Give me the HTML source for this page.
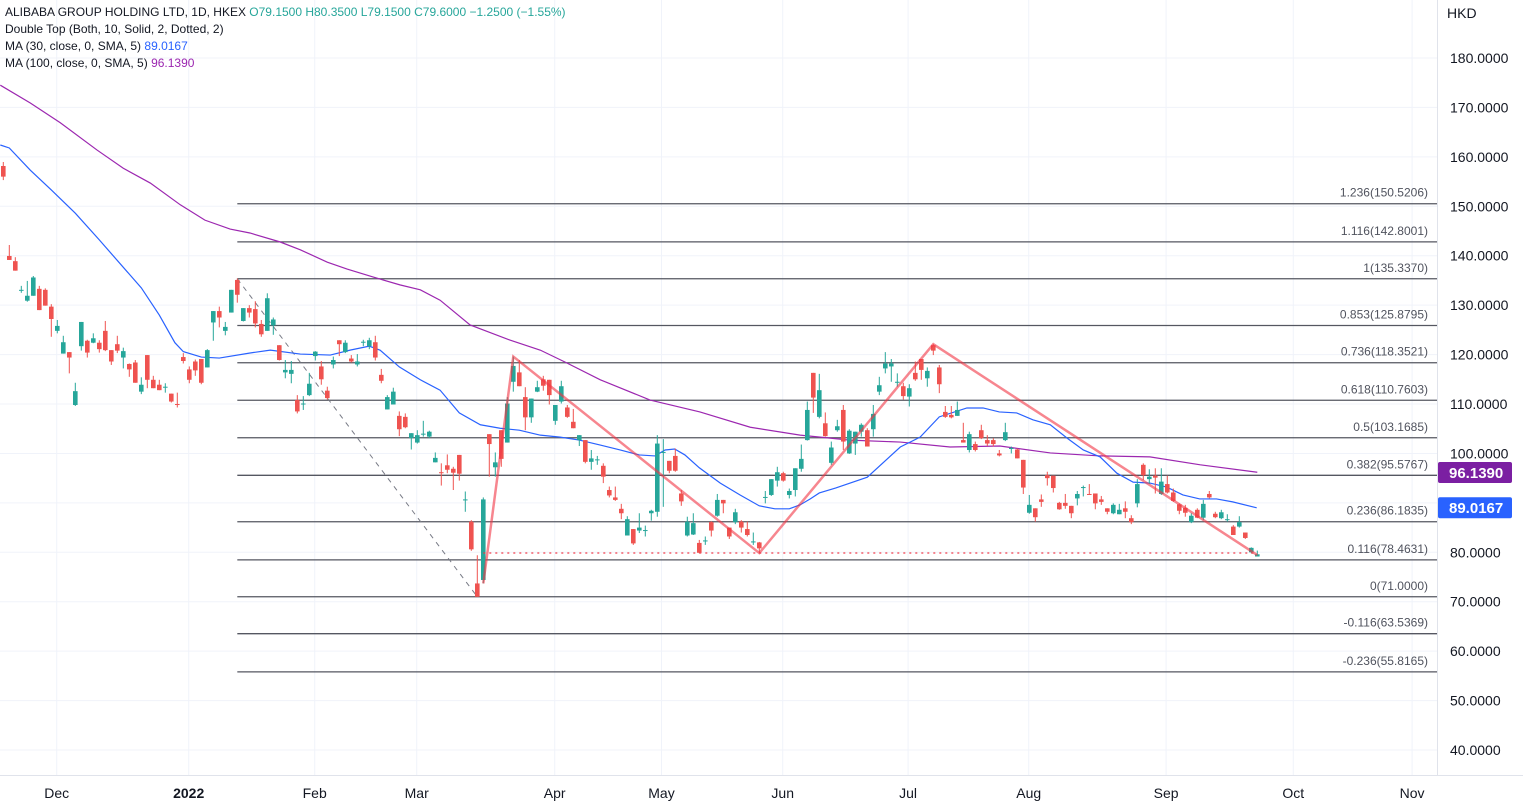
<!DOCTYPE html>
<html><head><meta charset="utf-8"><style>
html,body{margin:0;padding:0;background:#fff;}
body{width:1523px;height:809px;overflow:hidden;font-family:"Liberation Sans",sans-serif;}
svg{display:block;}
.hdr{position:absolute;left:5px;font-size:12px;color:#131722;white-space:nowrap;}
</style></head><body>
<div style="position:relative;width:1523px;height:809px;">
<svg id="chart" width="1523" height="809"></svg>
<div class="hdr" style="top:5px">ALIBABA GROUP HOLDING LTD, 1D, HKEX <span style="color:#26a69a">O79.1500 H80.3500 L79.1500 C79.6000 −1.2500 (−1.55%)</span></div>
<div class="hdr" style="top:22px">Double Top (Both, 10, Solid, 2, Dotted, 2)</div>
<div class="hdr" style="top:39px">MA (30, close, 0, SMA, 5) <span style="color:#2962ff">89.0167</span></div>
<div class="hdr" style="top:56px">MA (100, close, 0, SMA, 5) <span style="color:#9c27b0">96.1390</span></div>
</div>
<script>
// OHLC per bar index
const opens=[158.15,139.95,138.9,133.0,130.9,131.9,133.3,133.1,129.7,124.8,120.2,120.5,109.8,121.7,122.8,122.4,122.4,124.8,120.9,122.1,119.4,118.1,118.4,112.5,119.9,114.9,113.9,113.3,112.1,110.0,
119.5,117.0,118.6,119.1,117.4,126.5,128.8,124.8,128.5,135.1,126.8,129.4,129.2,126.2,124.8,125.9,121.9,116.4,116.1,110.8,109.9,111.8,119.7,117.6,112.7,118.0,122.9,120.5,119.2,118.0,
122.4,121.7,122.5,115.9,108.9,109.9,107.6,107.4,103.1,102.2,103.8,103.4,98.2,96.2,97.6,96.9,99.7,90.5,86.2,73.7,
74.4,103.9,97.2,104.7,102.2,114.5,116.4,111.4,107.3,112.5,115.0,114.9,106.6,110.5,109.3,106.4,102.7,102.7,98.3,98.6,
97.5,92.6,91.1,88.8,83.4,84.7,84.4,84.3,87.9,88.2,100.1,98.5,99.5,91.9,83.4,83.6,81.9,82.2,86.1,87.4,
90.6,85.0,86.1,86.2,84.7,82.0,82.0,91.0,91.6,94.5,96.0,91.6,92.6,96.9,102.7,116.3,107.4,106.1,98.1,104.7,
108.8,100.0,102.0,104.4,104.7,104.9,112.5,117.2,117.6,114.3,113.6,111.5,116.3,119.1,115.2,121.9,117.4,108.4,107.8,107.6,
102.7,100.7,101.9,104.7,102.7,102.7,100.0,102.7,100.9,100.8,98.7,88.0,88.9,90.7,95.6,95.5,90.0,90.0,89.4,90.9,
93.0,91.8,91.9,90.7,88.9,87.9,87.7,88.9,86.9,89.9,97.7,94.8,95.5,91.8,93.8,92.1,89.7,89.0,86.1,88.6,
87.0,91.8,87.8,86.9,86.6,85.2,85.2,84.0,80.0,79.15];
const highs=[158.96,142.17,139.7,133.9,134.9,135.9,133.9,133.4,130.2,127.0,123.8,120.5,114.3,126.6,123.0,124.3,122.9,126.8,120.9,123.8,121.4,118.2,118.9,115.4,119.9,115.7,114.9,114.2,112.1,112.3,
120.3,117.6,119.0,119.1,121.1,128.8,129.7,126.6,133.1,135.4,129.4,130.0,130.8,127.0,132.4,127.5,121.9,118.9,118.7,111.8,111.6,116.3,120.7,118.7,113.5,119.6,122.9,122.9,119.9,120.1,
123.0,123.4,123.8,117.1,111.8,113.3,108.5,108.1,104.1,104.7,106.6,104.6,100.2,98.0,99.8,97.3,99.7,92.3,86.5,79.4,
91.1,103.9,100.2,104.7,111.4,119.6,118.9,113.4,111.1,114.7,115.7,114.9,109.8,114.7,109.8,109.0,103.7,102.7,100.7,99.5,
98.0,93.3,93.3,89.8,87.3,84.7,87.9,85.4,88.6,103.7,102.9,98.5,101.0,92.6,87.2,87.9,82.5,83.2,86.3,91.8,
90.6,85.0,88.8,86.5,86.2,84.0,82.1,92.4,94.8,97.3,96.3,92.9,97.0,101.8,110.5,116.3,116.1,108.3,102.4,106.8,
109.8,104.9,104.4,106.1,105.1,109.8,115.5,120.5,119.1,116.2,114.3,114.0,118.6,119.1,117.4,122.1,117.9,109.6,109.6,110.5,
106.2,104.4,102.4,105.8,103.7,103.1,100.7,106.2,101.4,101.0,98.7,91.6,88.9,91.7,96.3,95.5,90.2,91.8,89.4,92.4,
93.5,93.8,91.9,91.4,88.9,89.9,89.8,90.3,87.5,94.8,98.0,96.8,97.0,97.0,95.5,92.9,89.9,89.6,87.9,88.9,
90.6,92.4,88.2,88.6,87.7,85.5,87.3,84.0,81.0,80.35];
const lows=[155.3,139.14,136.98,132.5,130.7,131.9,129.0,129.9,123.6,124.3,120.2,116.2,109.6,120.8,119.4,122.3,120.4,120.7,117.9,120.3,117.2,115.5,114.3,112.0,113.2,113.2,112.8,112.3,110.3,109.3,
118.2,114.2,115.7,114.0,117.4,122.8,125.5,123.9,128.5,130.5,126.7,127.5,125.5,123.6,124.8,124.0,118.8,115.2,114.2,108.1,108.8,111.6,118.8,113.9,110.9,117.2,119.7,120.3,118.4,117.6,
121.7,121.1,118.8,114.2,108.9,109.9,103.5,105.1,100.8,102.0,103.4,103.1,98.2,93.5,96.0,92.6,94.5,88.2,80.3,71.0,
73.7,95.3,95.3,97.3,102.2,112.5,113.6,104.7,106.2,112.4,112.7,109.9,105.8,110.1,107.2,105.1,101.5,98.0,96.7,97.7,
94.0,91.1,90.4,86.7,83.4,81.5,83.9,83.2,86.4,87.2,89.2,96.0,96.3,89.4,83.2,83.5,79.8,81.5,83.2,87.2,
87.9,82.7,85.7,84.0,83.2,81.5,79.8,89.9,91.4,93.3,94.3,90.9,91.3,96.3,102.6,108.2,107.1,103.4,97.7,104.4,
100.7,99.9,99.7,103.4,101.4,103.4,111.8,116.2,114.5,113.5,110.9,109.5,114.7,114.9,113.5,119.9,112.2,107.2,107.1,107.6,
102.2,100.2,100.4,102.9,101.5,101.4,99.4,102.5,100.0,99.0,91.8,87.8,86.2,89.2,93.5,92.1,88.6,88.8,86.9,89.5,
91.3,91.6,88.7,89.6,87.7,87.7,87.7,86.9,85.7,89.1,94.6,93.8,91.9,91.6,91.9,90.2,87.7,87.2,85.9,86.9,
86.5,90.9,86.9,86.7,86.2,83.5,85.0,82.7,79.8,79.15];
const closes=[156.0,139.14,136.98,133.1,131.9,135.6,129.0,129.9,127.2,125.8,122.5,119.4,112.6,126.6,120.4,123.3,121.1,120.9,118.6,120.8,120.7,117.0,114.3,113.9,114.9,113.2,112.8,113.5,110.5,109.8,
118.7,114.9,116.8,114.3,120.9,128.8,127.5,125.6,133.1,132.1,129.4,128.5,126.3,124.1,131.4,127.1,118.9,116.9,116.9,108.5,110.1,114.1,120.6,115.0,111.2,118.9,122.1,122.4,118.6,118.6,
122.6,122.9,119.4,114.7,111.4,112.5,104.9,105.3,104.1,103.7,104.0,104.4,99.1,96.0,96.7,96.1,95.9,90.7,80.6,71.0,
90.7,101.9,98.2,98.9,110.1,117.7,113.6,107.3,111.1,113.4,113.7,111.8,109.8,113.6,107.4,105.1,103.7,98.3,99.0,98.8,
95.3,91.5,90.6,87.9,86.7,81.8,85.0,84.5,88.4,102.0,100.3,96.5,96.5,90.3,86.2,85.9,79.9,82.4,84.4,90.6,
89.9,83.2,88.1,85.0,83.5,82.2,80.8,91.2,94.8,96.2,94.5,92.4,97.0,98.9,108.8,111.3,112.8,103.5,101.2,105.5,
102.4,104.6,104.4,105.8,101.4,108.0,113.8,118.2,118.2,114.5,111.6,113.2,115.0,116.9,116.7,120.8,114.0,107.4,107.3,108.8,
102.2,103.9,100.7,103.1,102.0,101.9,99.6,104.3,101.1,99.0,93.1,89.6,87.1,90.2,95.0,93.0,88.7,89.4,87.9,91.8,
93.2,91.7,89.9,90.2,88.2,89.6,88.6,88.2,86.1,93.8,95.6,95.3,95.1,94.3,92.1,90.4,88.4,88.0,87.4,87.0,
89.8,91.1,87.1,88.1,86.7,83.5,86.1,82.9,80.9,79.6];
// MA30 samples: bar index and value
const ma30Idx=[-0.5,1,4.5,8,12,16,23,26,28.6,30,33,36,41,44.5,49.5,54.5,57.8,61,62.8,66,69.5,72.8,76,79.5,82.8,86,89.5,92.8,96,99.5,102.8,106,108.6,110.3,111.9,113.6,116,119.5,122.8,126,128.6,131,132.8,134.5,136,138.7,144,149.5,152.8,156,160.6,163.3,166,168.9,171.6,174.5,177.3,180,182.8,185.6,188.3,191.1,193.9,196.6,199.4,202.2,204.9,208.9];
const ma30Val=[162.4,161.8,157.3,153.3,148.6,143.2,133.5,128.0,122.4,120.6,119.5,119.3,120.3,120.9,120.1,119.9,120.9,121.7,120.9,117.5,114.9,112.8,108.2,105.8,105.1,104.7,103.7,103.3,102.7,101.7,100.7,99.7,99.5,100.7,100.9,99.7,97.1,94.0,91.6,89.4,88.8,88.8,89.6,90.8,92.0,93.0,95.2,101.3,103.3,107.4,109.2,109.2,108.4,108.2,106.8,105.8,103.1,100.7,99.3,96.0,94.2,94.0,93.2,91.6,90.8,90.8,90.2,89.0];
const ma100Idx=[-0.5,4.5,9.5,15.6,20,24.5,29.5,33.6,37.8,41.1,46.1,49.5,54,57.3,61.6,66.1,69.5,72.8,77.8,84.5,89.5,93.6,99.5,107.8,116.1,124.5,132.8,141.1,149.5,157.8,166.1,174.5,182.8,191.1,199.5,209];
const ma100Val=[174.5,170.9,166.9,161.4,157.7,154.7,150.3,147.2,145.4,144.6,142.8,141.2,138.7,137.3,135.7,134.1,133.1,131.0,126.0,122.9,120.9,118.5,114.9,110.8,108.4,105.3,103.7,102.7,102.3,101.3,101.5,100.1,99.5,99.3,97.7,96.2];
// Fibonacci levels
const fibRatios=["1.236","1.116","1","0.853","0.736","0.618","0.5","0.382","0.236","0.116","0","-0.116","-0.236"];
const fibPrices=[150.5206,142.8001,135.3370,125.8795,118.3521,110.7603,103.1685,95.5767,86.1835,78.4631,71.0000,63.5369,55.8165];
// pattern points [bar index, price]
const doubleTopIdx=[80,85,126,155,209];
const doubleTopVal=[73.7,119.6,79.85,122.1,79.45];
const fibAnchorIdx=[39,79];
const fibAnchorVal=[135.337,71.0];
const neckIdx=[80,209];
const neckVal=79.85;
const yTicks=[180,170,160,150,140,130,120,110,100,90,80,70,60,50,40];
const yTickShow=[true,true,true,true,true,true,true,true,true,false,true,true,true,true,true];
const monthLabels=["Dec","2022","Feb","Mar","Apr","May","Jun","Jul","Aug","Sep","Oct","Nov"];
const monthIdx=[8.9,30.9,51.9,68.9,91.9,109.7,129.9,150.8,170.9,193.8,215,234.8];

const NS="http://www.w3.org/2000/svg";
const svg=document.getElementById('chart');
const X=i=>3.3+i*6;
const Y=p=>58+(180-p)*4.943;
const PLOT_R=1437;
function mk(tag,attrs,parent){const e=document.createElementNS(NS,tag);for(const k in attrs)e.setAttribute(k,attrs[k]);(parent||svg).appendChild(e);return e;}

// grid
const grid=mk('g',{});


yTicks.forEach(v=>{const l=mk('line',{x1:0,x2:PLOT_R,y1:Y(v),y2:Y(v),stroke:'#f0f3fa','stroke-width':1},grid);

});
monthIdx.forEach(m=>{const l=mk('line',{x1:X(m),x2:X(m),y1:0,y2:776,stroke:'#f0f3fa','stroke-width':1},grid);

});

// fib levels
const fibG=mk('g',{});


fibPrices.forEach((p,i)=>{
 const l=mk('line',{x1:X(fibAnchorIdx[0]),x2:PLOT_R,y1:Y(p),y2:Y(p),stroke:'#555761','stroke-width':1.3},fibG);
 
 
 const t=mk('text',{x:1428,y:Y(p)-7,'text-anchor':'end','font-size':12,fill:'#50535e','font-family':'Liberation Sans, sans-serif'},fibG);
 t.textContent=fibRatios[i]+"("+p.toFixed(4)+")";
 
 
});
const tl=mk('line',{x1:X(fibAnchorIdx[0]),y1:Y(fibAnchorVal[0]),x2:X(fibAnchorIdx[1]),y2:Y(fibAnchorVal[1]),stroke:'#787b86','stroke-width':1,'stroke-dasharray':'5,5'},fibG);



// MAs
function poly(idx,val,color,name){const p=mk('polyline',{points:idx.map((d,i)=>X(d)+','+Y(val[i])).join(' '),fill:'none',stroke:color,'stroke-width':1.2});

}
poly(ma100Idx,ma100Val,'#9c27b0','ma100-line');
poly(ma30Idx,ma30Val,'#2962ff','ma30-line');

// candles
const cg=mk('g',{});


for(let i=0;i<opens.length;i++){
 const up=closes[i]>=opens[i];const col=up?'#26a69a':'#ef5350';const x=X(i);
 const w=mk('line',{x1:x,x2:x,y1:Y(highs[i]),y2:Y(lows[i]),stroke:col,'stroke-width':1},cg);
 
 
 const top=Y(Math.max(opens[i],closes[i])),bot=Y(Math.min(opens[i],closes[i]));
 const b=mk('rect',{x:x-2.3,y:top,width:4.6,height:Math.max(1,bot-top),fill:col},cg);
 
 
}

// double top pattern
const dt=mk('polyline',{points:doubleTopIdx.map((d,i)=>X(d)+','+Y(doubleTopVal[i])).join(' '),fill:'none',stroke:'#f23645','stroke-opacity':0.6,'stroke-width':2.5});


const nk=mk('line',{x1:X(neckIdx[0]),x2:X(neckIdx[1]),y1:Y(neckVal),y2:Y(neckVal),stroke:'#f23645','stroke-opacity':0.6,'stroke-width':2,'stroke-dasharray':'2,4'});



// axes
const ax=mk('g',{});


mk('rect',{x:PLOT_R,y:0,width:86,height:809,fill:'#fff'},ax);
mk('line',{x1:PLOT_R+0.5,x2:PLOT_R+0.5,y1:0,y2:776,stroke:'#e0e3eb'},ax);
yTicks.forEach((v,i)=>{if(!yTickShow[i])return;
 const t=mk('text',{x:1450,y:Y(v)+5,'font-size':14,fill:'#131722','font-family':'Liberation Sans, sans-serif'},ax);
 t.textContent=v.toFixed(4);
 
 });
const cur=mk('text',{x:1447,y:18,'font-size':14,fill:'#131722','font-family':'Liberation Sans, sans-serif'},ax);
cur.textContent='HKD';


function tag(v,color,name){const y=Y(v);const g=mk('g',{},ax);
 
 
 mk('rect',{x:PLOT_R+1,y:y-10.5,width:74,height:21,rx:2,fill:color},g);
 const t=mk('text',{x:1449,y:y+5.5,'font-size':15,'font-weight':'bold',fill:'#fff','font-family':'Liberation Sans, sans-serif'},g);t.textContent=v.toFixed(4);}
tag(96.1390,'#7b1fa2','ma100-price-tag');
tag(89.0167,'#2962ff','ma30-price-tag');

const tx=mk('g',{});


mk('rect',{x:0,y:776,width:1523,height:33,fill:'#fff'},tx);
mk('line',{x1:0,x2:1523,y1:775.5,y2:775.5,stroke:'#e0e3eb'},tx);
monthLabels.forEach((m,i)=>{const t=mk('text',{x:X(monthIdx[i]),y:798,'text-anchor':'middle','font-size':14,fill:'#131722','font-weight':m==='2022'?'bold':'normal','font-family':'Liberation Sans, sans-serif'},tx);
 t.textContent=m;
 
 });
</script>
</body></html>
